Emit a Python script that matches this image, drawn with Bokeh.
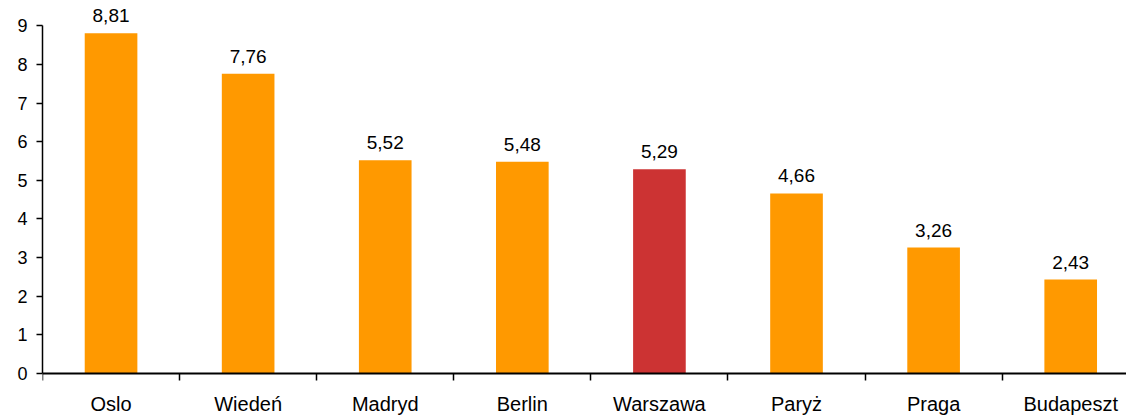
from bokeh.plotting import figure
from bokeh.models import ColumnDataSource, Range1d, FixedTicker, LabelSet, LinearAxis
from bokeh.core.properties import value
from bokeh.embed import file_html
from bokeh.resources import INLINE

cities = ["Oslo", "Wiedeń", "Madryd", "Berlin", "Warszawa", "Paryż", "Praga", "Budapeszt"]
values = [8.81, 7.76, 5.52, 5.48, 5.29, 4.66, 3.26, 2.43]
labels = ["8,81", "7,76", "5,52", "5,48", "5,29", "4,66", "3,26", "2,43"]
highlight = "Warszawa"

ORANGE = "#FF9900"
RED = "#CC3333"
FONT = "Liberation Sans"

xs = [i + 0.5 for i in range(len(cities))]
colors = [RED if c == highlight else ORANGE for c in cities]
src = ColumnDataSource(dict(x=xs, top=values, label=labels, color=colors,
                            city=cities, zero=[0] * len(cities)))

p = figure(width=1126, height=416, output_backend="svg", toolbar_location=None,
           x_range=Range1d(0, 7.907), y_range=Range1d(-1.114, 9.526),
           x_axis_location=None,
           min_border_left=42, min_border_right=0, min_border_top=5, min_border_bottom=0)
p.outline_line_color = None
p.xgrid.visible = False
p.ygrid.visible = False

p.vbar(x="x", top="top", bottom=0, width=0.384, fill_color="color", line_color=None, source=src)

p.add_layout(LabelSet(x="x", y="top", text="label", source=src, text_align="center",
                      text_baseline="alphabetic", y_offset=11, text_font=value(FONT),
                      text_font_size=value("19px"), text_color="black"))

# category names under the axis
p.add_layout(LabelSet(x="x", y="zero", text="city", source=src, text_align="center",
                      text_baseline="alphabetic", y_offset=-38, text_font=value(FONT),
                      text_font_size=value("20px"), text_color="black"))

# y axis
p.yaxis.bounds = (0, 9)
p.yaxis.ticker = FixedTicker(ticks=list(range(0, 10)))
p.yaxis.major_tick_out = 6
p.yaxis.major_tick_in = 0
p.yaxis.minor_tick_out = 0
p.yaxis.axis_line_width = 1.5
p.yaxis.axis_line_color = "black"
p.yaxis.major_tick_line_color = "black"
p.yaxis.major_tick_line_width = 1.5
p.yaxis.major_label_text_font = FONT
p.yaxis.major_label_text_font_size = "18px"
p.yaxis.major_label_text_color = "black"
p.yaxis.major_label_standoff = 9

# x axis line at y=0 with tick marks at category boundaries
xaxis = LinearAxis(fixed_location=0,
                   ticker=FixedTicker(ticks=xs, minor_ticks=list(range(0, len(cities) + 1))))
xaxis.major_label_overrides = {x: "" for x in xs}
xaxis.major_label_text_font_size = "1px"
xaxis.major_label_standoff = 0
xaxis.major_tick_out = 0
xaxis.major_tick_in = 0
xaxis.minor_tick_out = 0
xaxis.minor_tick_in = 7
xaxis.minor_tick_line_color = "black"
xaxis.minor_tick_line_width = 1.5
xaxis.axis_line_width = 2
xaxis.axis_line_color = "black"
p.add_layout(xaxis, "above")

open("out.html", "w").write(file_html(p, INLINE))
